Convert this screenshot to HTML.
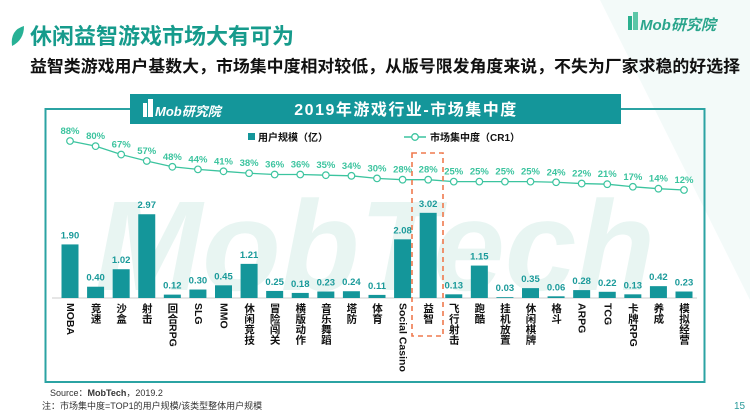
<!DOCTYPE html>
<html><head><meta charset="utf-8">
<style>
body{margin:0;width:750px;height:418px;background:#fff;overflow:hidden;font-family:"Liberation Sans","Noto Sans CJK SC",sans-serif;position:relative;}
svg text{font-family:"Liberation Sans","Noto Sans CJK SC",sans-serif;}
.lab{position:absolute;top:303px;width:14px;writing-mode:vertical-rl;text-orientation:mixed;font-size:10.5px;font-weight:bold;color:#111;line-height:14px;white-space:nowrap;}
</style></head>
<body>
<svg id="s" width="750" height="418" xmlns="http://www.w3.org/2000/svg" style="position:absolute;left:0;top:0">
<rect width="750" height="418" fill="#fff"/>
<path d="M600 0 L750 0 L750 300 Z" fill="#f3faf9"/>
<text x="95" y="290" font-size="128" font-weight="bold" font-style="italic" fill="#e8f5f2" textLength="560" lengthAdjust="spacingAndGlyphs">MobTech</text>
<path d="M12 46 Q10 30 24 26 Q24 40 12 46 Z" fill="#27b195"/>
<text x="30" y="44" font-size="22" font-weight="bold" fill="#169b8c">休闲益智游戏市场大有可为</text>
<text x="30" y="72" font-size="16.5" font-weight="bold" fill="#111" textLength="710" lengthAdjust="spacingAndGlyphs">益智类游戏用户基数大，市场集中度相对较低，从版号限发角度来说，不失为厂家求稳的好选择</text>
<rect x="628" y="16" width="4" height="14" fill="#2bb08f"/><rect x="633" y="12" width="5" height="18" fill="#5cc7a8"/>
<text x="640" y="30" font-size="15" font-weight="bold" font-style="italic" fill="#2aa58c">Mob研究院</text>
<rect x="45.5" y="109" width="659" height="273" fill="none" stroke="#2ba3a3" stroke-width="2"/>
<rect x="130" y="94" width="491" height="30" fill="#14969a"/>
<rect x="143" y="103" width="4" height="14" fill="#fff"/><rect x="148" y="99" width="5" height="18" fill="#fff"/>
<text x="155" y="116" font-size="13" font-style="italic" font-weight="bold" fill="#fff">Mob研究院</text>
<text x="406" y="115" font-size="16" font-weight="bold" fill="#fff" text-anchor="middle" letter-spacing="1.5">2019年游戏行业-市场集中度</text>
<rect x="248" y="133" width="7" height="7" fill="#14969a"/>
<text x="258" y="141" font-size="10" font-weight="bold" fill="#111">用户规模（亿）</text>
<line x1="404" y1="137" x2="426" y2="137" stroke="#3cc49f" stroke-width="1.5"/>
<circle cx="415" cy="137" r="3.3" fill="#fff" stroke="#3cc49f" stroke-width="1.3"/>
<text x="430" y="141" font-size="10" font-weight="bold" fill="#111">市场集中度（CR1）</text>
<g id="g"></g>
<rect x="412" y="153" width="31" height="183" fill="none" stroke="#ef7a4e" stroke-width="1.6" stroke-dasharray="5,4"/>
<text x="50" y="396" font-size="9" fill="#333">Source：<tspan font-weight="bold">MobTech</tspan>，2019.2</text>
<text x="42" y="409" font-size="9" fill="#333">注：市场集中度=TOP1的用户规模/该类型整体用户规模</text>
<text x="734" y="409" font-size="10" fill="#2a9a9a">15</text>
</svg>
<div id="labs"></div>
<script>
var cats=["MOBA","竞速","沙盒","射击","回合RPG","SLG","MMO","休闲竞技","冒险闯关","横版动作","音乐舞蹈","塔防","体育","Social Casino","益智","飞行射击","跑酷","挂机放置","休闲棋牌","格斗","ARPG","TCG","卡牌RPG","养成","模拟经营"];
var vals=[1.90,0.40,1.02,2.97,0.12,0.30,0.45,1.21,0.25,0.18,0.23,0.24,0.11,2.08,3.02,0.13,1.15,0.03,0.35,0.06,0.28,0.22,0.13,0.42,0.23];
var cr=[88,80,67,57,48,44,41,38,36,36,35,34,30,28,28,25,25,25,25,24,22,21,17,14,12];
var n=cats.length,x0=70,x1=684,dx=(x1-x0)/(n-1),base=298,k=28.2;
var h='<line x1="52" y1="'+base+'" x2="697" y2="'+base+'" stroke="#ccc" stroke-width="1"/>';
var pts=[],L='';
for(var i=0;i<n;i++){var cx=x0+i*dx,bh=vals[i]*k;
h+='<rect x="'+(cx-8.5)+'" y="'+(base-bh)+'" width="17" height="'+bh+'" fill="#14969a"/>';
h+='<text x="'+cx+'" y="'+(base-bh-6)+'" font-size="9.5" font-weight="bold" fill="#1a9a9a" text-anchor="middle">'+vals[i].toFixed(2)+'</text>';
L+='<div class="lab" style="left:'+(cx-7)+'px">'+cats[i]+'</div>';
var y=141+(88-cr[i])*49/76;pts.push(cx+','+y);}
h+='<polyline points="'+pts.join(' ')+'" fill="none" stroke="#3cc49f" stroke-width="1.3"/>';
for(var i=0;i<n;i++){var p=pts[i].split(',');
h+='<circle cx="'+p[0]+'" cy="'+p[1]+'" r="3.3" fill="#fff" stroke="#3cc49f" stroke-width="1.2"/>';
h+='<text x="'+p[0]+'" y="'+(p[1]-7)+'" font-size="9.5" font-weight="bold" fill="#3cc49f" text-anchor="middle">'+cr[i]+'%</text>';}
document.getElementById('g').innerHTML=h;
document.getElementById('labs').innerHTML=L;
</script>
</body></html>
